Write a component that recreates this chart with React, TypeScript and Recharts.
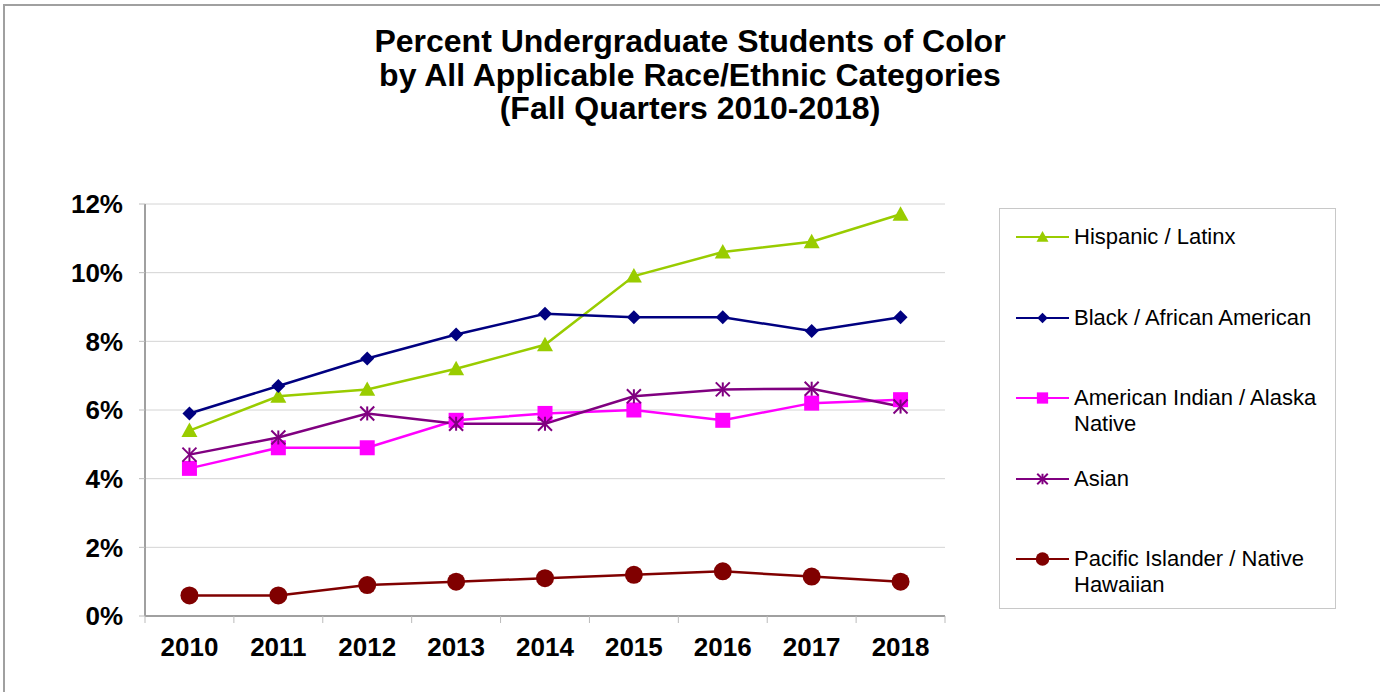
import {
  CartesianGrid,
  Line,
  LineChart,
  XAxis,
  YAxis,
} from "recharts";

const years = ["2010", "2011", "2012", "2013", "2014", "2015", "2016", "2017", "2018"];
const hispanic = [5.4, 6.4, 6.6, 7.2, 7.9, 9.9, 10.6, 10.9, 11.7];
const black = [5.9, 6.7, 7.5, 8.2, 8.8, 8.7, 8.7, 8.3, 8.7];
const amIndian = [4.3, 4.9, 4.9, 5.7, 5.9, 6.0, 5.7, 6.2, 6.3];
const asian = [4.7, 5.2, 5.9, 5.6, 5.6, 6.4, 6.6, 6.62, 6.1];
const pacific = [0.6, 0.6, 0.9, 1.0, 1.1, 1.2, 1.3, 1.15, 1.0];
const yTicks = [0, 2, 4, 6, 8, 10, 12];

const titleLines = [
  "Percent Undergraduate Students of Color",
  "by All Applicable Race/Ethnic Categories",
  "(Fall Quarters 2010-2018)",
];

type Marker = "triangle" | "diamond" | "square" | "asterisk" | "circle";

const series: { key: string; label: string[]; color: string; marker: Marker }[] = [
  { key: "hispanic", label: ["Hispanic / Latinx"], color: "#99cc00", marker: "triangle" },
  { key: "black", label: ["Black / African American"], color: "#000080", marker: "diamond" },
  { key: "amIndian", label: ["American Indian / Alaska", "Native"], color: "#ff00ff", marker: "square" },
  { key: "asian", label: ["Asian"], color: "#800080", marker: "asterisk" },
  { key: "pacific", label: ["Pacific Islander / Native", "Hawaiian"], color: "#800000", marker: "circle" },
];

const data = years.map((year, i) => ({
  year,
  hispanic: hispanic[i],
  black: black[i],
  amIndian: amIndian[i],
  asian: asian[i],
  pacific: pacific[i],
}));

const FONT = "'Liberation Sans', Arial, sans-serif";
const PLOT_LEFT = 145;
const PLOT_RIGHT = 945;
const HALF_STEP = (PLOT_RIGHT - PLOT_LEFT) / years.length / 2;

function markerShape(kind: Marker, cx: number, cy: number, color: string, scale = 1) {
  if (kind === "triangle") {
    const s = 8 * scale;
    return <path d={`M${cx},${cy - s} L${cx + s},${cy + s * 0.8} L${cx - s},${cy + s * 0.8} Z`} fill={color} />;
  }
  if (kind === "diamond") {
    const s = 7 * scale;
    return <path d={`M${cx},${cy - s} L${cx + s},${cy} L${cx},${cy + s} L${cx - s},${cy} Z`} fill={color} />;
  }
  if (kind === "square") {
    const s = 7.5 * scale;
    return <rect x={cx - s} y={cy - s} width={s * 2} height={s * 2} fill={color} />;
  }
  if (kind === "asterisk") {
    const s = 7 * scale;
    return (
      <g stroke={color} strokeWidth={2}>
        <line x1={cx} y1={cy - s} x2={cx} y2={cy + s} />
        <line x1={cx - s} y1={cy - s} x2={cx + s} y2={cy + s} />
        <line x1={cx - s} y1={cy + s} x2={cx + s} y2={cy - s} />
      </g>
    );
  }
  return <circle cx={cx} cy={cy} r={9 * scale} fill={color} />;
}

function makeDot(kind: Marker, color: string) {
  return (props: any) => {
    const { cx, cy, index } = props;
    if (cx == null || cy == null) return <g key={index} />;
    return <g key={index}>{markerShape(kind, cx, cy, color)}</g>;
  };
}

function YearTick(props: any) {
  const { x, y, payload, index } = props;
  const last = index === years.length - 1;
  return (
    <g>
      <line x1={x - HALF_STEP} y1={y - 8} x2={x - HALF_STEP} y2={y - 1} stroke="#bbbbbb" />
      {last ? <line x1={x + HALF_STEP} y1={y - 8} x2={x + HALF_STEP} y2={y - 1} stroke="#bbbbbb" /> : null}
      <text x={x} y={y + 32} textAnchor="middle" fontFamily={FONT} fontWeight="bold" fontSize={26} fill="#000">
        {payload.value}
      </text>
    </g>
  );
}

function LegendBox() {
  return (
    <div
      style={{
        position: "absolute",
        left: 999,
        top: 208,
        width: 337,
        height: 401,
        border: "1px solid #c8c8c8",
        boxSizing: "border-box",
        paddingTop: 15,
        fontFamily: FONT,
        fontSize: 22,
        color: "#000",
      }}
    >
      {series.map((s) => (
        <div key={s.key} style={{ height: 80.6, display: "flex", alignItems: "flex-start" }}>
          <svg width={74} height={26} style={{ flex: "none" }}>
            <line x1={16} y1={13} x2={69} y2={13} stroke={s.color} strokeWidth={2} />
            {markerShape(s.marker, 42.5, 13, s.color, 0.75)}
          </svg>
          <div style={{ lineHeight: "26px" }}>
            {s.label.map((l) => (
              <div key={l}>{l}</div>
            ))}
          </div>
        </div>
      ))}
    </div>
  );
}

export default function App() {
  return (
    <div
      style={{
        position: "fixed",
        left: 0,
        top: 0,
        width: 1380,
        height: 692,
        overflow: "hidden",
        background: "#fff",
      }}
    >
      <div
        style={{
          position: "absolute",
          left: 3,
          top: 4,
          width: 1420,
          height: 740,
          border: "2px solid #a0a0a0",
        }}
      />
      <div
        style={{
          position: "absolute",
          left: 0,
          top: 25,
          width: 1380,
          textAlign: "center",
          fontFamily: FONT,
          fontWeight: "bold",
          fontSize: 32,
          lineHeight: "33.5px",
          color: "#000",
        }}
      >
        {titleLines.map((t) => (
          <div key={t}>{t}</div>
        ))}
      </div>
      <div style={{ position: "absolute", left: 0, top: 0 }}>
        <LineChart
          width={1380}
          height={692}
          data={data}
          margin={{ top: 204, right: 1380 - PLOT_RIGHT, bottom: 0, left: 0 }}
        >
          <CartesianGrid stroke="#d4d4d4" strokeWidth={1} vertical={false} />
          <XAxis
            dataKey="year"
            padding={{ left: HALF_STEP, right: HALF_STEP }}
            axisLine={{ stroke: "#a0a0a0", strokeWidth: 2 }}
            tickLine={false}
            tick={<YearTick />}
            interval={0}
            height={76}
          />
          <XAxis xAxisId="top" orientation="top" dataKey="year" axisLine={{ stroke: "#a0a0a0", strokeWidth: 2 }} tick={false} tickLine={false} height={0} />
          <YAxis
            domain={[0, 12]}
            ticks={yTicks}
            interval={0}
            tickFormatter={(v) => `${v}%`}
            axisLine={{ stroke: "#a0a0a0", strokeWidth: 2 }}
            tickLine={{ stroke: "#bbbbbb" }}
            tickSize={6}
            tickMargin={16}
            width={PLOT_LEFT}
            tick={{ fontFamily: FONT, fontWeight: "bold", fontSize: 26, fill: "#000" }}
          />
          <YAxis yAxisId="right" orientation="right" domain={[0, 12]} axisLine={{ stroke: "#a0a0a0", strokeWidth: 2 }} tick={false} tickLine={false} width={0} />
          {series.map((s) => (
            <Line
              key={s.key}
              type="linear"
              dataKey={s.key}
              name={s.label.join(" ")}
              stroke={s.color}
              strokeWidth={2.5}
              dot={makeDot(s.marker, s.color)}
              activeDot={false}
              isAnimationActive={false}
            />
          ))}
        </LineChart>
      </div>
      <LegendBox />
    </div>
  );
}
